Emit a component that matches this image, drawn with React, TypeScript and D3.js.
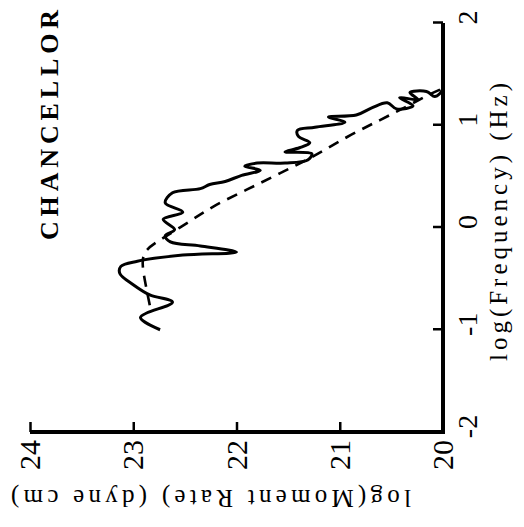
import * as React from 'react';
import * as d3 from 'd3';

const freqTicks = [-2, -1, 0, 1, 2];
const momentTicks = [20, 21, 22, 23, 24];

const obsFreq = [
  -1.0, -0.88, -0.73, -0.66, -0.56, -0.45, -0.38, -0.33, -0.27, -0.24, -0.18, -0.14,
  -0.08, -0.02, 0.08, 0.15, 0.24, 0.34, 0.38, 0.42, 0.45, 0.51, 0.56, 0.6, 0.63, 0.63,
  0.66, 0.72, 0.74, 0.78, 0.83, 0.89, 0.95, 0.98, 1.03, 1.08, 1.1, 1.17, 1.22, 1.16,
  1.19, 1.27, 1.25, 1.32, 1.33, 1.28, 1.31, 1.36,
];
const obsMoment = [
  22.74, 22.93, 22.62, 22.84, 23.0, 23.13, 23.12, 22.96, 22.52, 22.0, 22.35, 22.64,
  22.69, 22.6, 22.71, 22.52, 22.69, 22.62, 22.35, 22.26, 22.11, 21.95, 21.77, 21.92, 21.8, 21.53,
  21.31, 21.27, 21.53, 21.39, 21.29, 21.4, 21.41, 21.24, 20.95, 21.11, 20.84, 20.69, 20.54, 20.45,
  20.29, 20.42, 20.24, 20.32, 20.16, 20.08, 20.03, 20.0,
];

// model spectrum (dashed)
const fitFreq = [-0.76, -0.56, -0.34, -0.22, -0.12, 0.06, 0.21, 0.37, 0.53, 0.7, 0.89, 1.05, 1.2, 1.32, 1.36];
const fitMoment = [22.84, 22.88, 22.92, 22.89, 22.74, 22.45, 22.23, 21.9, 21.58, 21.24, 20.93, 20.61, 20.32, 20.1, 20.0];

const W = 524;
const H = 527;
const font = '"Liberation Serif", "Times New Roman", serif';

export default function App() {
  const ref = React.useRef<SVGSVGElement>(null);

  React.useEffect(() => {
    const svg = d3.select(ref.current);
    svg.selectAll('*').remove();

    // the figure is drawn upright, then turned a quarter turn counter-clockwise
    const g = svg.append('g').attr('transform', `translate(0,${H}) rotate(-90)`);

    const x = d3.scaleLinear().domain([-2, 2]).range([95, 504]);
    const y = d3.scaleLinear().domain([20, 24]).range([443, 30]);

    // frame
    g.append('path')
      .attr('d', `M${x(-2)},${y(24)}V${y(20)}H${x(2)}`)
      .attr('fill', 'none')
      .attr('stroke', '#000')
      .attr('stroke-width', 4)
      .attr('stroke-linejoin', 'miter');

    const xAxis = g
      .append('g')
      .attr('transform', `translate(0,${y(20)})`)
      .call(
        d3.axisBottom(x).tickValues(freqTicks).tickSize(-10).tickSizeOuter(0).tickPadding(14)
          .tickFormat(d => String(d))
      );
    xAxis.select('.domain').remove();
    xAxis.selectAll('line').attr('stroke-width', 2.5);
    xAxis.selectAll('text')
      .attr('x', 5)
      .style('font-family', font)
      .style('font-size', '28px')
      .attr('fill', '#000');

    const yAxis = g
      .append('g')
      .attr('transform', `translate(${x(-2)},0)`)
      .call(
        d3.axisLeft(y).tickValues(momentTicks).tickSize(-10).tickSizeOuter(0).tickPadding(8)
          .tickFormat(d => String(d))
      );
    yAxis.select('.domain').remove();
    yAxis.selectAll('line').attr('stroke-width', 2.5);
    yAxis.selectAll('text')
      .style('font-family', font)
      .style('font-size', '30px')
      .attr('fill', '#000');

    // model
    g.append('path')
      .datum(d3.zip(fitFreq, fitMoment))
      .attr('fill', 'none')
      .attr('stroke', '#000')
      .attr('stroke-width', 2.6)
      .attr('stroke-dasharray', '11,8')
      .attr('d', d3.line<number[]>().x(d => x(d[0])).y(d => y(d[1])).curve(d3.curveBasis));

    // observed
    g.append('path')
      .datum(d3.zip(obsFreq, obsMoment))
      .attr('fill', 'none')
      .attr('stroke', '#000')
      .attr('stroke-width', 3)
      .attr('stroke-linejoin', 'round')
      .attr('d', d3.line<number[]>().x(d => x(d[0])).y(d => y(d[1])).curve(d3.curveCatmullRom.alpha(0.5)));

    // labels
    g.append('text')
      .attr('x', 287)
      .attr('y', 58)
      .attr('textLength', 230)
      .attr('lengthAdjust', 'spacing')
      .style('font-family', font)
      .style('font-weight', 'bold')
      .style('font-size', '26px')
      .text('CHANCELLOR');

    g.append('text')
      .attr('x', 305)
      .attr('y', 507)
      .attr('text-anchor', 'middle')
      .attr('textLength', 278)
      .attr('lengthAdjust', 'spacing')
      .style('font-family', font)
      .style('font-size', '25px')
      .text('log(Frequency) (Hz)');

    g.append('text')
      .attr('transform', 'translate(37,211) rotate(-90)')
      .attr('text-anchor', 'middle')
      .attr('textLength', 400)
      .attr('lengthAdjust', 'spacing')
      .style('font-family', font)
      .style('font-size', '25px')
      .text('log(Moment Rate) (dyne cm)');
  }, []);

  return (
    <svg
      ref={ref}
      width={W}
      height={H}
      style={{ position: 'absolute', left: 0, top: 0, background: '#fff' }}
    />
  );
}
